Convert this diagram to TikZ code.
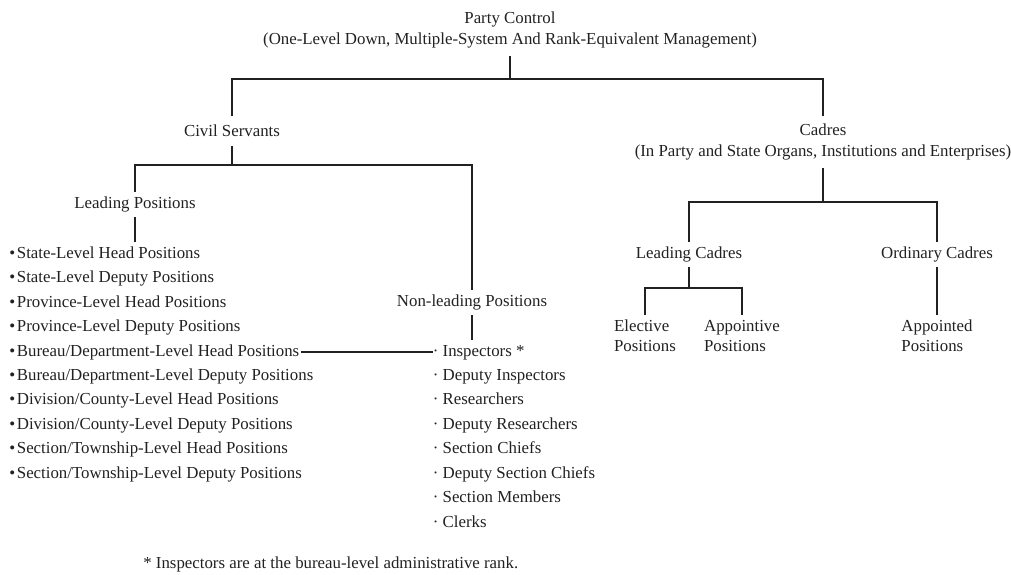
\documentclass[tikz,border=0pt]{standalone}
\usepackage{fontspec}
\setmainfont{Liberation Serif}
\usetikzlibrary{positioning}
\definecolor{ink}{rgb}{0.13, 0.13, 0.13}
\tikzset{lbl/.style = {align=center, inner sep=3pt, text=ink}}
\tikzset{hd/.style = {lbl, inner sep=5pt}}
\tikzset{item/.style = {anchor=west, inner sep=0, text=ink,
                        text height=1.6ex, text depth=0.5ex}}
\tikzset{link/.style = {draw=ink, line width=1pt}}

\begin{document}
\begin{tikzpicture}[x=0.6pt, y=-0.6pt, font=\fontsize{10.1}{12.2}\selectfont]
          \useasboundingbox (0, 0) rectangle (1011, 574);
          \node [hd] (party) at (510, 30) {Party Control\\(One-Level Down, Multiple-System And Rank-Equivalent Management)};
          \node [hd] (civil) at (232, 131) {Civil Servants};
          \node [hd] (cadres) at (823, 142) {Cadres\\(In Party and State Organs, Institutions and Enterprises)};

          \node [lbl] (leadpos) at (135, 204.5) {Leading Positions};
          \node [lbl] (nonlead) at (472, 302.5) {Non-leading Positions};
          \node [lbl] (leadcad) at (689, 254.5) {Leading Cadres};
          \node [lbl] (ordcad) at (937, 254.5) {Ordinary Cadres};
          \node [lbl, align=left] (elective) at (645, 336) {Elective\\Positions};
          \node [lbl, align=left] (appointive) at (742, 336) {Appointive\\Positions};
          \node [lbl, align=left] (appointed) at (937, 336) {Appointed\\Positions};

          \foreach \txt [count=\i] in {State-Level Head Positions, State-Level Deputy Positions,
                Province-Level Head Positions, Province-Level Deputy Positions,
                Bureau/Department-Level Head Positions, Bureau/Department-Level Deputy Positions,
                Division/County-Level Head Positions, Division/County-Level Deputy Positions,
                Section/Township-Level Head Positions, Section/Township-Level Deputy Positions}
            \node [item] (l\i) at (9, {254 + 24.45*(\i - 1)}) {•\kern1pt\txt};

          \foreach \txt [count=\i] in {Inspectors *, Deputy Inspectors, Researchers,
                Deputy Researchers, Section Chiefs, Deputy Section Chiefs, Section Members, Clerks}
            \node [item] (n\i) at (432.5, {254 + 24.45*(\i + 3)}) {·~\txt};

          \node [item] (note) at (143, 564) {* Inspectors are at the bureau-level administrative rank.};

          \coordinate (j1) at (510, 79);
          \coordinate (j2) at (232, 165);
          \coordinate (j3) at (823, 202);
          \coordinate (j4) at (689, 288);

          \draw [link] (party) -- (j1);
          \draw [link] (civil.north) |- (j1) -| (cadres.north);
          \draw [link] (civil) -- (j2);
          \draw [link] (leadpos.north) |- (j2) -| (nonlead.north);
          \draw [link, shorten >=2pt] (leadpos) -- (leadpos |- l1.north);
          \draw [link, shorten >=2pt] (nonlead) -- (nonlead |- n1.north);
          \draw [link, shorten <=1pt] (l5.east) -- (n1.west);
          \draw [link] (cadres) -- (j3);
          \draw [link] (leadcad.north) |- (j3) -| (ordcad.north);
          \draw [link] (leadcad) -- (j4);
          \draw [link] (elective.north) |- (j4) -| (appointive.north);
          \draw [link] (ordcad) -- (appointed);
        \end{tikzpicture}
\end{document}
